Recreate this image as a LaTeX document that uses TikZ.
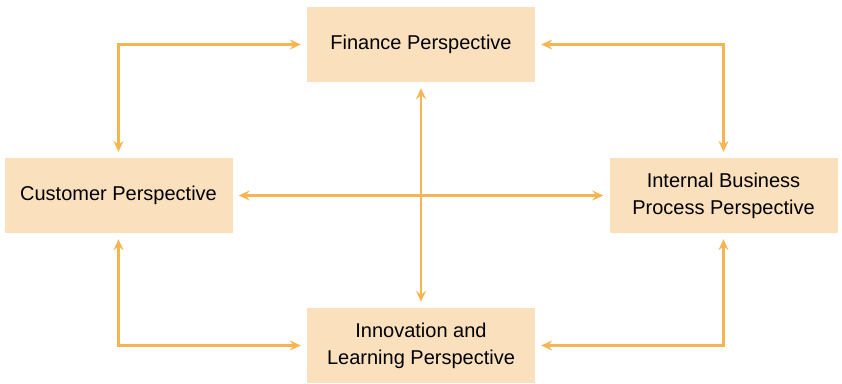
\documentclass[tikz,border=0pt]{standalone}
\usepackage{fontspec}
\setmainfont{Liberation Sans}
\usetikzlibrary{arrows.meta}
\definecolor{boxfill}{HTML}{FAE0BC}
\definecolor{linkcol}{HTML}{F5B551}
\begin{document}
\begin{tikzpicture}[x=1pt, y=-1pt,
  persp/.style={fill=boxfill, minimum width=228pt, minimum height=75pt, align=center,
    font=\fontsize{20}{27}\selectfont, text=black},
  link/.style={draw=linkcol, line width=2.6pt, shorten >=6pt, shorten <=6pt,
    {Stealth[length=11pt, width=10pt, inset=4pt]}-{Stealth[length=11pt, width=10pt, inset=4pt]}}]
  \useasboundingbox (0,0) rectangle (842,383);
  \node[persp] (fin) at (421,44.5) {Finance Perspective};
  \node[persp] (cust) at (118.5,195.5) {Customer Perspective};
  \node[persp] (ibp) at (723.5,195.5) {Internal Business\\Process Perspective};
  \node[persp] (inno) at (421,345.5) {Innovation and\\Learning Perspective};
  \draw[link] (cust.north) |- (fin.west);
  \draw[link] (fin.east) -| (ibp.north);
  \draw[link] (cust.south) |- (inno.west);
  \draw[link] (inno.east) -| (ibp.south);
  \draw[link] (fin.south) -- (inno.north);
  \draw[link] (cust.east) -- (ibp.west);
\end{tikzpicture}
\end{document}
